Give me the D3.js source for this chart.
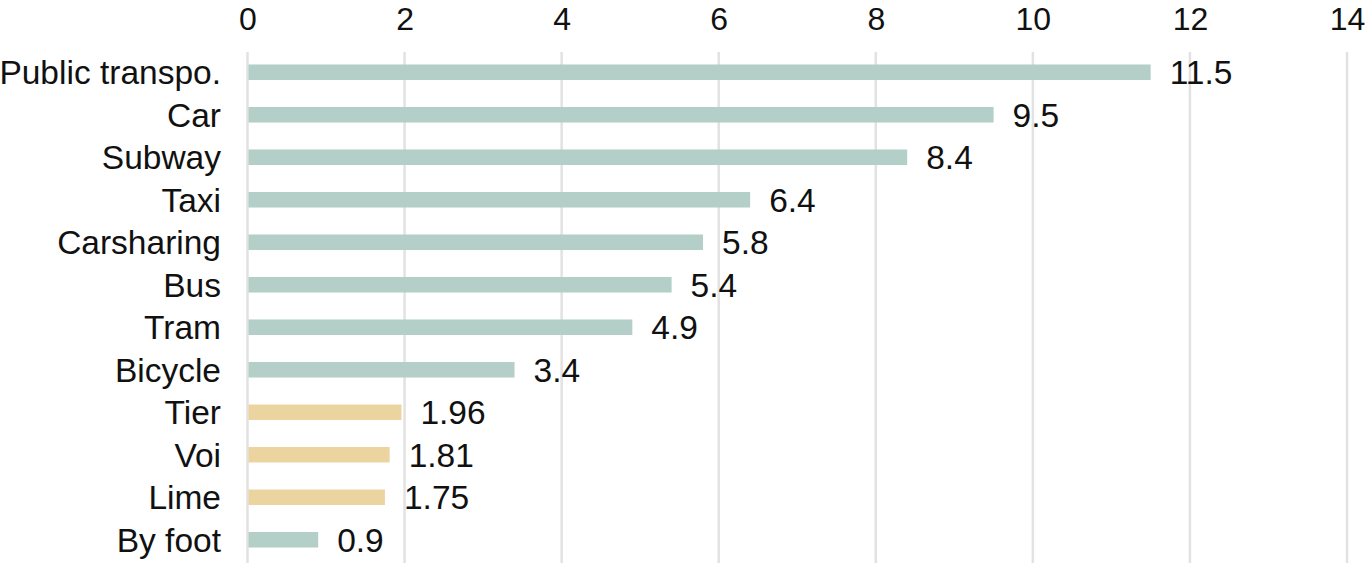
<!DOCTYPE html>
<html>
<head>
<meta charset="utf-8">
<script src="https://cdn.jsdelivr.net/npm/d3@7"></script>
<style>
  html, body { margin: 0; padding: 0; background: #fff; }
  svg { display: block; }
  text { font-family: "Liberation Sans", Arial, sans-serif; fill: #111; }
</style>
</head>
<body>
<svg id="chart" width="1367" height="563"></svg>
<script>
const categories = ["Public transpo.", "Car", "Subway", "Taxi", "Carsharing", "Bus", "Tram", "Bicycle", "Tier", "Voi", "Lime", "By foot"];
const values = [11.5, 9.5, 8.4, 6.4, 5.8, 5.4, 4.9, 3.4, 1.96, 1.81, 1.75, 0.9];
const labels = ["11.5", "9.5", "8.4", "6.4", "5.8", "5.4", "4.9", "3.4", "1.96", "1.81", "1.75", "0.9"];
const groups = ["other", "other", "other", "other", "other", "other", "other", "other", "scooter", "scooter", "scooter", "other"];
const tickValues = [0, 2, 4, 6, 8, 10, 12, 14];

const colors = { other: "#b3cfc7", scooter: "#ebd49f" };

const svg = d3.select("#chart");
const x = d3.scaleLinear().domain([0, 14]).range([247.5, 1347]);
const y = d3.scaleBand().domain(categories).range([51, 561]).paddingInner(0.635).paddingOuter(0.3175);

// grid lines
svg.append("g").selectAll("line").data(tickValues).join("line")
  .attr("x1", d => x(d)).attr("x2", d => x(d))
  .attr("y1", 52).attr("y2", 563)
  .attr("stroke", "#e2e2e2").attr("stroke-width", 2.5);

// top axis labels
const axis = d3.axisTop(x).tickValues(tickValues).tickSize(0).tickPadding(0).tickFormat(d3.format("d"));
const ax = svg.append("g").attr("transform", "translate(0,30)").call(axis);
ax.select(".domain").remove();
ax.selectAll("text").style("font-size", "32px").attr("fill", "#111").attr("dy", 0);

// bars
svg.append("g").selectAll("rect").data(categories).join("rect")
  .attr("x", x(0) + 1)
  .attr("y", d => y(d))
  .attr("width", (d, i) => x(values[i]) - x(0) - 1)
  .attr("height", y.bandwidth())
  .attr("fill", (d, i) => colors[groups[i]]);

// category labels
svg.append("g").selectAll("text").data(categories).join("text")
  .attr("x", 221)
  .attr("y", d => y(d) + y.bandwidth() / 2)
  .attr("dy", "0.36em")
  .attr("text-anchor", "end")
  .style("font-size", "33.5px")
  .text(d => d);

// value labels
svg.append("g").selectAll("text").data(categories).join("text")
  .attr("x", (d, i) => x(values[i]) + 19)
  .attr("y", d => y(d) + y.bandwidth() / 2)
  .attr("dy", "0.36em")
  .style("font-size", "33.5px")
  .text((d, i) => labels[i]);
</script>
</body>
</html>
